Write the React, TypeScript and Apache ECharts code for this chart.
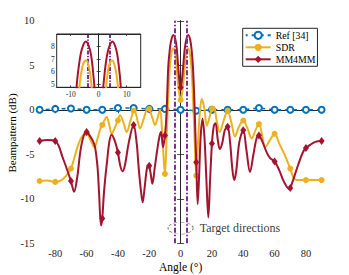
import React, { useEffect, useRef } from "react";
import * as echarts from "echarts";

// ---- Data ----
const refAngles = [-90, -80, -70, -60, -50, -40, -30, -20, -10, 0, 10, 20, 30, 40, 50, 60, 70, 80, 90];
const refValues = [0, 0.1, 0.15, 0, 0, 0.2, 0.2, 0.1, 0.1, 0, -0.1, 0, 0, 0, 0.2, 0, 0, 0, 0];

const sdrAngles = [
  -90, -85, -80, -76, -73, -70, -68, -65.5, -63, -60, -57.5, -55, -53, -51, -50, -47.2, -45.5, -44, -42, -40,
  -38.7, -36.5, -34.4, -32, -30, -29.5, -27.5, -25.9, -23.5, -21, -20, -18, -16.3, -14.5, -13.1, -11.5, -10,
  -9, -8, -6.9, -5.8, -4.6, -3.5, -2.5, -1.3, 0, 1.3, 2.6, 3.6, 4.7, 5.8, 6.9, 8, 9, 10, 11, 12.2, 13.5, 15,
  16.8, 18.5, 20, 21.3, 23, 25, 27.5, 30, 32.5, 34.7, 37, 40, 42.5, 45.4, 48, 50, 52, 54, 57, 60, 63, 66, 70,
  72, 74, 80, 85, 90,
];
const sdrValues = [
  -8.0, -7.95, -8.1, -7.9, -7.4, -6.6, -5.5, -4.0, -3.0, -2.6, -3.4, -4.2, -3.2, -2.0, -1.7, -0.8, -1.7, -2.7,
  -2.0, -1.2, -0.6, -1.4, -2.5, -1.2, -0.1, -0.05, -1.2, -2.1, -1.0, 0.15, 0.1, -0.9, -1.7, -0.8, 0.0, -3.5,
  -7.2, -3.5, 1.0, 4.74, 6.4, 6.9, 6.4, 4.74, 2.3, 1.1, 2.3, 4.74, 6.4, 6.9, 6.4, 4.74, 1.0, -3.5, -7.4, -4.0,
  -0.5, 1.2, 0.3, -1.8, -0.8, 0.1, 0.3, -1.2, -2.5, -1.2, -0.1, -1.5, -3.0, -2.0, -1.2, -2.0, -3.2, -2.2, -1.6,
  -2.8, -4.2, -3.4, -2.7, -3.8, -4.9, -6.6, -7.6, -7.9, -7.9, -7.9, -7.9,
];

const mmAngles = [
  -90, -85, -80, -75, -70, -68, -66, -64, -62, -60, -58, -56, -54.6, -53, -52, -50.8, -50, -49, -48, -47, -45.5,
  -44, -42, -40, -38.5, -37, -35.5, -33, -30, -28, -27, -25.5, -24.2, -23, -21.5, -20.5, -20, -19, -18, -16.5,
  -15, -13.5, -12.5, -11.2, -10, -9, -7.9, -7, -6, -4.6, -3.2, -2.3, -1.5, -0.7, 0, 0.7, 1.6, 2.5, 3.5, 4.9, 6.2,
  7.1, 7.9, 8.8, 9.4, 10, 10.9, 11.8, 12.8, 14, 15.2, 16.5, 17.7, 18.8, 20, 21.2, 22.3, 23.6, 25, 26.5, 28.2, 30,
  31.5, 33, 34.2, 35.5, 37.5, 40, 42, 44.3, 46.5, 48.5, 50, 52, 55, 57, 60, 63, 66, 69.5, 70, 72, 75, 78, 80, 83,
  86, 90,
];
const mmValues = [
  -3.5, -3.4, -3.5, -5.5, -8.0, -9.2, -7.6, -4.7, -3.0, -2.5, -2.9, -3.5, -4.2, -6.5, -9.5, -13.0, -12.2, -9.5,
  -7.5, -5.9, -3.6, -2.8, -3.5, -4.8, -6.3, -6.9, -6.2, -3.6, -1.7, -3.8, -6.0, -8.8, -10.4, -8.8, -6.6, -6.2,
  -6.3, -7.3, -8.3, -6.5, -4.6, -3.0, -2.5, -4.2, -2.9, -0.5, 4.74, 6.6, 7.8, 8.4, 7.8, 6.6, 4.74, 3.1, 2.5, 3.1,
  4.74, 6.6, 7.8, 8.4, 7.8, 6.6, 4.74, 1.0, -2.5, -5.9, -10.6, -7.5, -3.0, -1.0, -3.0, -8.0, -12.1, -8.0, -3.8,
  -1.8, -1.5, -3.2, -4.4, -3.8, -2.3, -1.9, -3.5, -6.6, -7.9, -6.9, -3.6, -2.3, -4.5, -7.0, -5.0, -3.2, -2.9,
  -3.5, -4.8, -5.4, -5.8, -6.8, -8.1, -8.9, -8.8, -7.8, -6.2, -4.8, -4.3, -3.9, -3.6, -3.5,
];

const targetAngles = [-4, 4];
const targetNote = { angle: 0, value: -13.3, text: "Target directions" };

const xTicks = [-80, -60, -40, -20, 0, 20, 40, 60, 80];
const insetXTicks = [-10, 0, 10];
const insetYTicks = [5, 6, 7, 8];

const FONT = "Liberation Serif";
const AX = "#262626";
const BLUE = "#0072BD";
const YEL = "#EDB120";
const RED = "#A2142F";
const PURPLE = "#7E2F8E";

function withMarkers(angles: number[], values: number[]) {
  return angles.map((a, i) =>
    a % 10 === 0 ? { value: [a, values[i]] } : { value: [a, values[i]], symbol: "none" }
  );
}
function plain(angles: number[], values: number[]) {
  return angles.map((a, i) => [a, values[i]]);
}

export default function App() {
  const ref = useRef<HTMLDivElement>(null);
  useEffect(() => {
    if (!ref.current) return;
    const chart = echarts.init(ref.current, undefined, { renderer: "svg" });
    const tick = (len: number, custom?: number[]) => ({
      show: true,
      inside: true,
      length: len,
      lineStyle: { color: AX, width: 0.8 },
      ...(custom ? { customValues: custom } : {}),
    });
    const line = { show: true, lineStyle: { color: AX, width: 1 } };
    const purpleMark = {
      symbol: "none",
      silent: true,
      label: { show: false },
      lineStyle: { color: PURPLE, width: 2, type: [5, 2, 1.5, 2] },
      data: targetAngles.map((a) => ({ xAxis: a })),
    };
    const option: any = {
      animation: false,
      textStyle: { fontFamily: FONT },
      grid: [
        { left: 39.6, top: 20.8, width: 282, height: 222.5, show: false },
        {
          left: 56.7,
          top: 34,
          width: 84,
          height: 53.3,
          show: true,
          backgroundColor: "#fff",
          borderColor: AX,
          borderWidth: 1,
          z: 5,
        },
      ],
      xAxis: [
        {
          gridIndex: 0,
          type: "value",
          position: "bottom",
          min: -90,
          max: 90,
          axisLine: line,
          axisTick: tick(3.5, xTicks),
          axisLabel: { customValues: xTicks, color: AX, fontFamily: FONT, fontSize: 10.5, margin: 5 },
          splitLine: { show: false },
        },
        {
          gridIndex: 0,
          type: "value",
          position: "top",
          min: -90,
          max: 90,
          axisLine: line,
          axisTick: tick(3.5, xTicks),
          axisLabel: { show: false },
          splitLine: { show: false },
        },
        {
          gridIndex: 1,
          type: "value",
          position: "bottom",
          min: -15,
          max: 15,
          axisLine: line,
          axisTick: tick(2, insetXTicks),
          axisLabel: { customValues: insetXTicks, color: AX, fontFamily: FONT, fontSize: 7.5, margin: 3 },
          splitLine: { show: false },
          z: 6,
        },
        {
          gridIndex: 1,
          type: "value",
          position: "top",
          min: -15,
          max: 15,
          axisLine: line,
          axisTick: tick(2, insetXTicks),
          axisLabel: { show: false },
          splitLine: { show: false },
          z: 6,
        },
      ],
      yAxis: [
        {
          gridIndex: 0,
          type: "value",
          position: "left",
          min: -15,
          max: 10,
          interval: 5,
          axisLine: line,
          axisTick: tick(3.5),
          axisLabel: { color: AX, fontFamily: FONT, fontSize: 10.5, margin: 5 },
          splitLine: { show: false },
        },
        {
          gridIndex: 0,
          type: "value",
          position: "right",
          min: -15,
          max: 10,
          interval: 5,
          axisLine: line,
          axisTick: tick(3.5),
          axisLabel: { show: false },
          splitLine: { show: false },
        },
        {
          gridIndex: 1,
          type: "value",
          position: "left",
          min: 4.74,
          max: 9,
          axisLine: line,
          axisTick: tick(2, insetYTicks),
          axisLabel: { customValues: insetYTicks, color: AX, fontFamily: FONT, fontSize: 7.5, margin: 2 },
          splitLine: { show: false },
          z: 6,
        },
        {
          gridIndex: 1,
          type: "value",
          position: "right",
          min: 4.74,
          max: 9,
          axisLine: line,
          axisTick: tick(2, insetYTicks),
          axisLabel: { show: false },
          splitLine: { show: false },
          z: 6,
        },
      ],
      legend: {
        data: ["Ref [34]", "SDR", "MM4MM"],
        left: 242.7,
        top: 28.3,
        orient: "vertical",
        backgroundColor: "#fff",
        borderColor: AX,
        borderWidth: 1,
        borderRadius: 0,
        padding: [1, 2, 1, 2],
        itemGap: 0,
        itemWidth: 25,
        itemHeight: 9,
        textStyle: { fontFamily: FONT, fontSize: 9.8, color: "#000", lineHeight: 12 },
      },
      series: [
        {
          name: "Ref [34]",
          type: "line",
          xAxisIndex: 0,
          yAxisIndex: 0,
          data: plain(refAngles, refValues),
          symbol: "circle",
          symbolSize: 6,
          itemStyle: { color: "#fff", borderColor: BLUE, borderWidth: 2 },
          lineStyle: { color: BLUE, width: 1.6, type: [4, 4], dashOffset: 2 },
          z: 2,
        },
        {
          name: "SDR",
          type: "line",
          xAxisIndex: 0,
          yAxisIndex: 0,
          data: withMarkers(sdrAngles, sdrValues),
          smooth: 0.35,
          symbol: "circle",
          symbolSize: 6,
          itemStyle: { color: YEL },
          lineStyle: { color: YEL, width: 2 },
          z: 3,
        },
        {
          name: "MM4MM",
          type: "line",
          xAxisIndex: 0,
          yAxisIndex: 0,
          data: withMarkers(mmAngles, mmValues),
          smooth: 0.35,
          symbol: "diamond",
          symbolSize: [6, 8],
          itemStyle: { color: RED },
          lineStyle: { color: RED, width: 2 },
          markLine: purpleMark,
          z: 4,
        },
        {
          name: "SDR inset",
          type: "line",
          xAxisIndex: 2,
          yAxisIndex: 2,
          data: plain(sdrAngles, sdrValues),
          smooth: 0.35,
          symbol: "none",
          lineStyle: { color: YEL, width: 2 },
          clip: true,
          z: 7,
        },
        {
          name: "MM4MM inset",
          type: "line",
          xAxisIndex: 2,
          yAxisIndex: 2,
          data: plain(mmAngles, mmValues),
          smooth: 0.35,
          symbol: "none",
          lineStyle: { color: RED, width: 2 },
          clip: true,
          markLine: { ...purpleMark, lineStyle: { color: PURPLE, width: 2, type: [4, 1.5, 1.2, 1.5] } },
          z: 8,
        },
        {
          name: "note",
          type: "scatter",
          xAxisIndex: 0,
          yAxisIndex: 0,
          data: [[targetNote.angle, targetNote.value]],
          symbol: "circle",
          symbolSize: [25, 12],
          silent: true,
          itemStyle: { color: "rgba(0,0,0,0)", borderColor: "#555", borderWidth: 0.8, borderType: [3, 2] },
          label: {
            show: true,
            position: "right",
            distance: 6,
            formatter: targetNote.text,
            fontFamily: FONT,
            fontSize: 12,
            color: "#000",
          },
          z: 5,
        },
      ],
      graphic: [
        {
          type: "text",
          x: 180.6,
          y: 267,
          style: { text: "Angle (°)", font: `11.5px "${FONT}"`, fill: "#000", align: "center", verticalAlign: "middle" },
        },
        {
          type: "text",
          x: 12,
          y: 133,
          rotation: Math.PI / 2,
          style: {
            text: "Beampattern (dB)",
            font: `11px "${FONT}"`,
            fill: "#000",
            align: "center",
            verticalAlign: "middle",
          },
        },
      ],
    };
    chart.setOption(option);
    return () => chart.dispose();
  }, []);
  return (
    <div
      ref={ref}
      style={{ position: "absolute", left: 0, top: 0, width: 349, height: 275, background: "#fff" }}
    />
  );
}
